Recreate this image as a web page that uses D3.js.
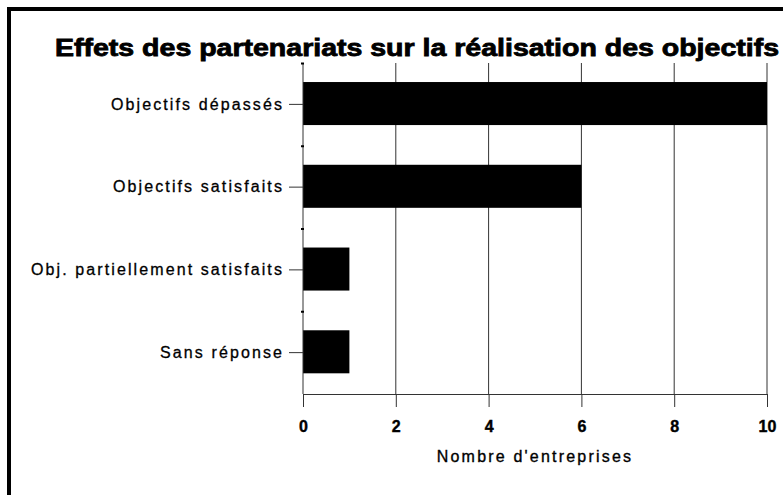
<!DOCTYPE html>
<html>
<head>
<meta charset="utf-8">
<script src="https://cdn.jsdelivr.net/npm/d3@7"></script>
<style>
  body { margin: 0; background: #fff; }
  svg { display: block; font-family: "Liberation Sans", Arial, Helvetica, sans-serif; }
</style>
</head>
<body>
<div id="chart"></div>
<script>
// data
var categories = ["Objectifs dépassés", "Objectifs satisfaits", "Obj. partiellement satisfaits", "Sans réponse"];
var values = [10, 6, 1, 1];
var xTicks = [0, 2, 4, 6, 8, 10];
var title = "Effets des partenariats sur la réalisation des objectifs";
var xTitle = "Nombre d'entreprises";

var W = 783, H = 495;
var margin = {top: 63, right: 16, bottom: 101, left: 303};

var svg = d3.select("#chart").append("svg")
  .attr("width", W)
  .attr("height", H);

//Frame (only top & left visible)
svg.append("path")
  .attr("d", "M9," + (H + 5) + "V9H" + (W + 5))
  .style("fill", "none")
  .style("stroke", "#000")
  .style("stroke-width", 4);

//Title
svg.append("text")
  .attr("x", 417)
  .attr("y", 56)
  .attr("text-anchor", "middle")
  .attr("textLength", 724)
  .attr("lengthAdjust", "spacingAndGlyphs")
  .style("font-size", "23px")
  .style("font-weight", "bold")
  .style("stroke", "#000")
  .style("stroke-width", 0.8)
  .text(title);

var x = d3.scaleLinear()
  .domain([0, 10])
  .range([margin.left, W - margin.right]);

var y = d3.scaleBand()
  .domain(categories)
  .range([margin.top, H - margin.bottom]);

var bw = y.bandwidth();
var x0 = x(0), yBottom = H - margin.bottom;

//Gridlines
svg.selectAll(".grid")
  .data(xTicks.filter(d => d > 0))
  .enter()
  .append("line")
  .attr("x1", d => x(d))
  .attr("x2", d => x(d))
  .attr("y1", margin.top)
  .attr("y2", yBottom)
  .style("stroke", "#333")
  .style("stroke-width", 1);

//Bars
svg.selectAll(".bar")
  .data(categories)
  .enter()
  .append("rect")
  .attr("x", x0)
  .attr("y", d => y(d) + bw * 0.23)
  .attr("width", (d, i) => x(values[i]) - x0)
  .attr("height", bw * 0.52)
  .style("fill", "#000");

//X axis
var xAxis = svg.append("g")
  .attr("transform", "translate(0," + yBottom + ")")
  .call(d3.axisBottom(x).tickValues(xTicks).tickSize(13).tickSizeOuter(0).tickPadding(14));
xAxis.select(".domain").style("stroke", "#333");
xAxis.selectAll(".tick line").style("stroke", "#333");
xAxis.selectAll(".tick text")
  .style("font-size", "16px")
  .style("font-weight", "bold")
  .style("fill", "#000")
  .style("stroke", "#000")
  .style("stroke-width", 0.4)
  .style("font-family", "'Liberation Sans', Arial, sans-serif");

//X title
svg.append("text")
  .attr("x", 535)
  .attr("y", 462)
  .attr("text-anchor", "middle")
  .style("font-size", "16px")
  .style("letter-spacing", "2.2px")
  .style("fill", "#000")
  .style("stroke", "#000")
  .style("stroke-width", 0.35)
  .text(xTitle);

//Y axis line
svg.append("line")
  .attr("x1", x0).attr("x2", x0)
  .attr("y1", margin.top).attr("y2", yBottom)
  .style("stroke", "#333");

//Category ticks + labels
var yAxis = svg.append("g")
  .attr("transform", "translate(" + x0 + ",0)")
  .call(d3.axisLeft(y).tickSize(14).tickSizeOuter(0).tickPadding(5));
yAxis.select(".domain").remove();
yAxis.selectAll(".tick line").style("stroke", "#333");
yAxis.selectAll(".tick text")
  .style("font-size", "16px")
  .style("letter-spacing", "2.1px")
  .style("fill", "#000")
  .style("stroke", "#000")
  .style("stroke-width", 0.3)
  .style("font-family", "'Liberation Sans', Arial, sans-serif");

//Small separator ticks between bands
svg.selectAll(".sep")
  .data(categories)
  .enter()
  .append("line")
  .attr("x1", x0 - 2)
  .attr("x2", x0 + 1)
  .attr("y1", d => y(d) + 0.5)
  .attr("y2", d => y(d) + 0.5)
  .style("stroke", "#000")
  .style("stroke-width", 2);
</script>
</body>
</html>
